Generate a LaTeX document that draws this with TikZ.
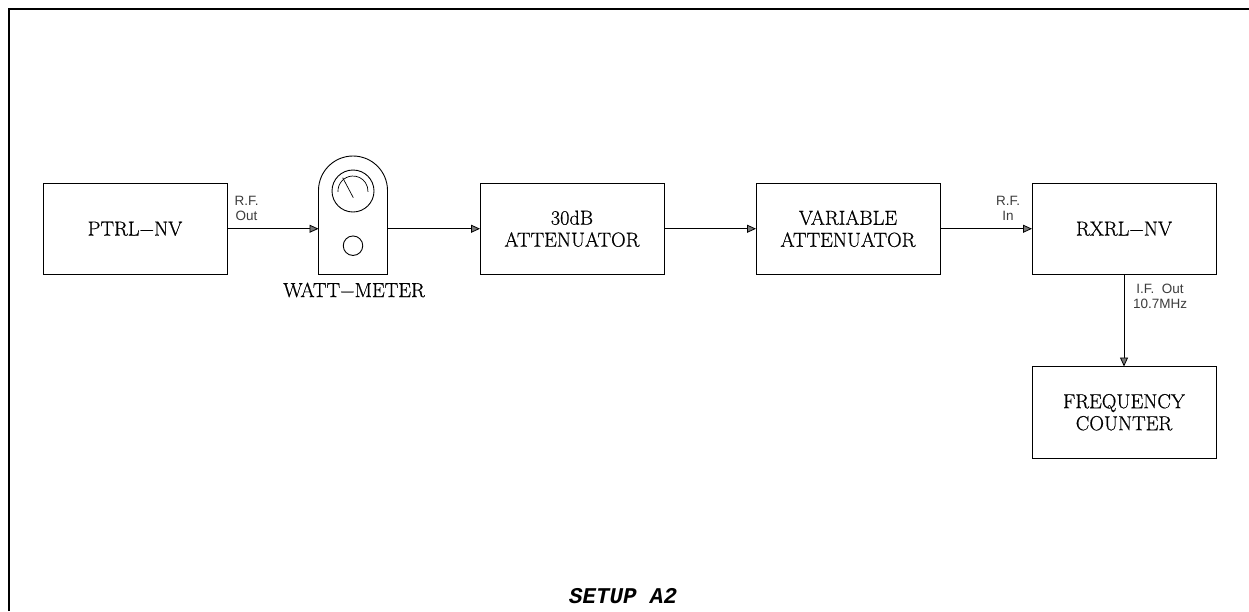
\documentclass[tikz,border=0pt]{standalone}
\usepackage{fontspec}
\setmonofont{Liberation Mono}
\newfontfamily\labelfont{Liberation Sans}
\newfontfamily\boxfont[FakeBold=0.6]{Latin Modern Roman}
\usetikzlibrary{positioning,arrows.meta}
\definecolor{tipGray}{RGB}{120,120,120}
\definecolor{sigGray}{RGB}{60,60,60}

\begin{document}
\begin{tikzpicture}[x=1pt,y=-1pt,
  box/.style={draw=black, line width=0.9pt, align=center, outer sep=0pt,
              font=\boxfont\fontsize{20.3}{22}\selectfont,
              minimum width=184pt, minimum height=91.5pt, inner sep=0pt},
  sig/.style={font=\labelfont\fontsize{13.5}{15}\selectfont, text=sigGray, align=center, inner sep=0pt},
  arr/.style={-{Triangle[length=9pt,width=8pt,fill=tipGray]}, line width=0.8pt}]
  \useasboundingbox (0,0) rectangle (1249,611);
  \draw[line width=2.5pt] (9,611) |- (1249,9);
  \node[box, anchor=north west] (ptrl) at (43,183) {PTRL−NV};
  \node[box, right=253pt of ptrl] (atten) {30dB\\ATTENUATOR};
  \node[box, right=92pt of atten] (vatten) {VARIABLE\\ATTENUATOR};
  \node[box, right=92pt of vatten] (rxrl) {RXRL−NV};
  \node[box, below=92pt of rxrl] (freq) {FREQUENCY\\COUNTER};
  % watt-meter body
  \coordinate (wbl) at (318.5,274.5);
  \coordinate (wbr) at (387.5,274.5);
  \draw[line width=0.9pt] (wbl) -- (318.5,190.5) arc[start angle=180,end angle=360,radius=34.5] -- (wbr) -- cycle;
  \node[draw, circle, minimum size=42pt, inner sep=0pt, line width=0.9pt] (dial) at (353,191) {};
  \node[draw, circle, minimum size=19.5pt, inner sep=0pt, line width=0.9pt] (knob) at (353,245.7) {};
  \draw[line width=0.7pt] (338,191.8) arc[start angle=177,end angle=363,radius=15];
  \draw[line width=0.7pt] (353.3,197.7) -- (342.7,177.7);
  \coordinate (win) at (wbl |- ptrl.east);
  \coordinate (wout) at (wbr |- ptrl.east);
  \node[font=\boxfont\fontsize{20.3}{22}\selectfont, inner sep=0pt] (wlabel) at (354,290) {WATT−METER};
  \draw[arr] (ptrl.east) -- (win);
  \draw[arr] (wout) -- (atten.west);
  \draw[arr] (atten) -- (vatten);
  \draw[arr] (vatten) -- (rxrl);
  \draw[arr] (rxrl) -- (freq);
  \node[sig] (rfout) at (246.5,208) {R.F.\\Out};
  \node[sig] (rfin) at (1008,208) {R.F.\\In};
  \node[sig] (ifout) at (1160,296) {I.F.~~Out\\10.7MHz};
  \node[font=\ttfamily\bfseries\itshape\fontsize{22.5}{24}\selectfont, inner sep=0pt] (title) at (623,596) {SETUP A2};
\end{tikzpicture}
\end{document}
